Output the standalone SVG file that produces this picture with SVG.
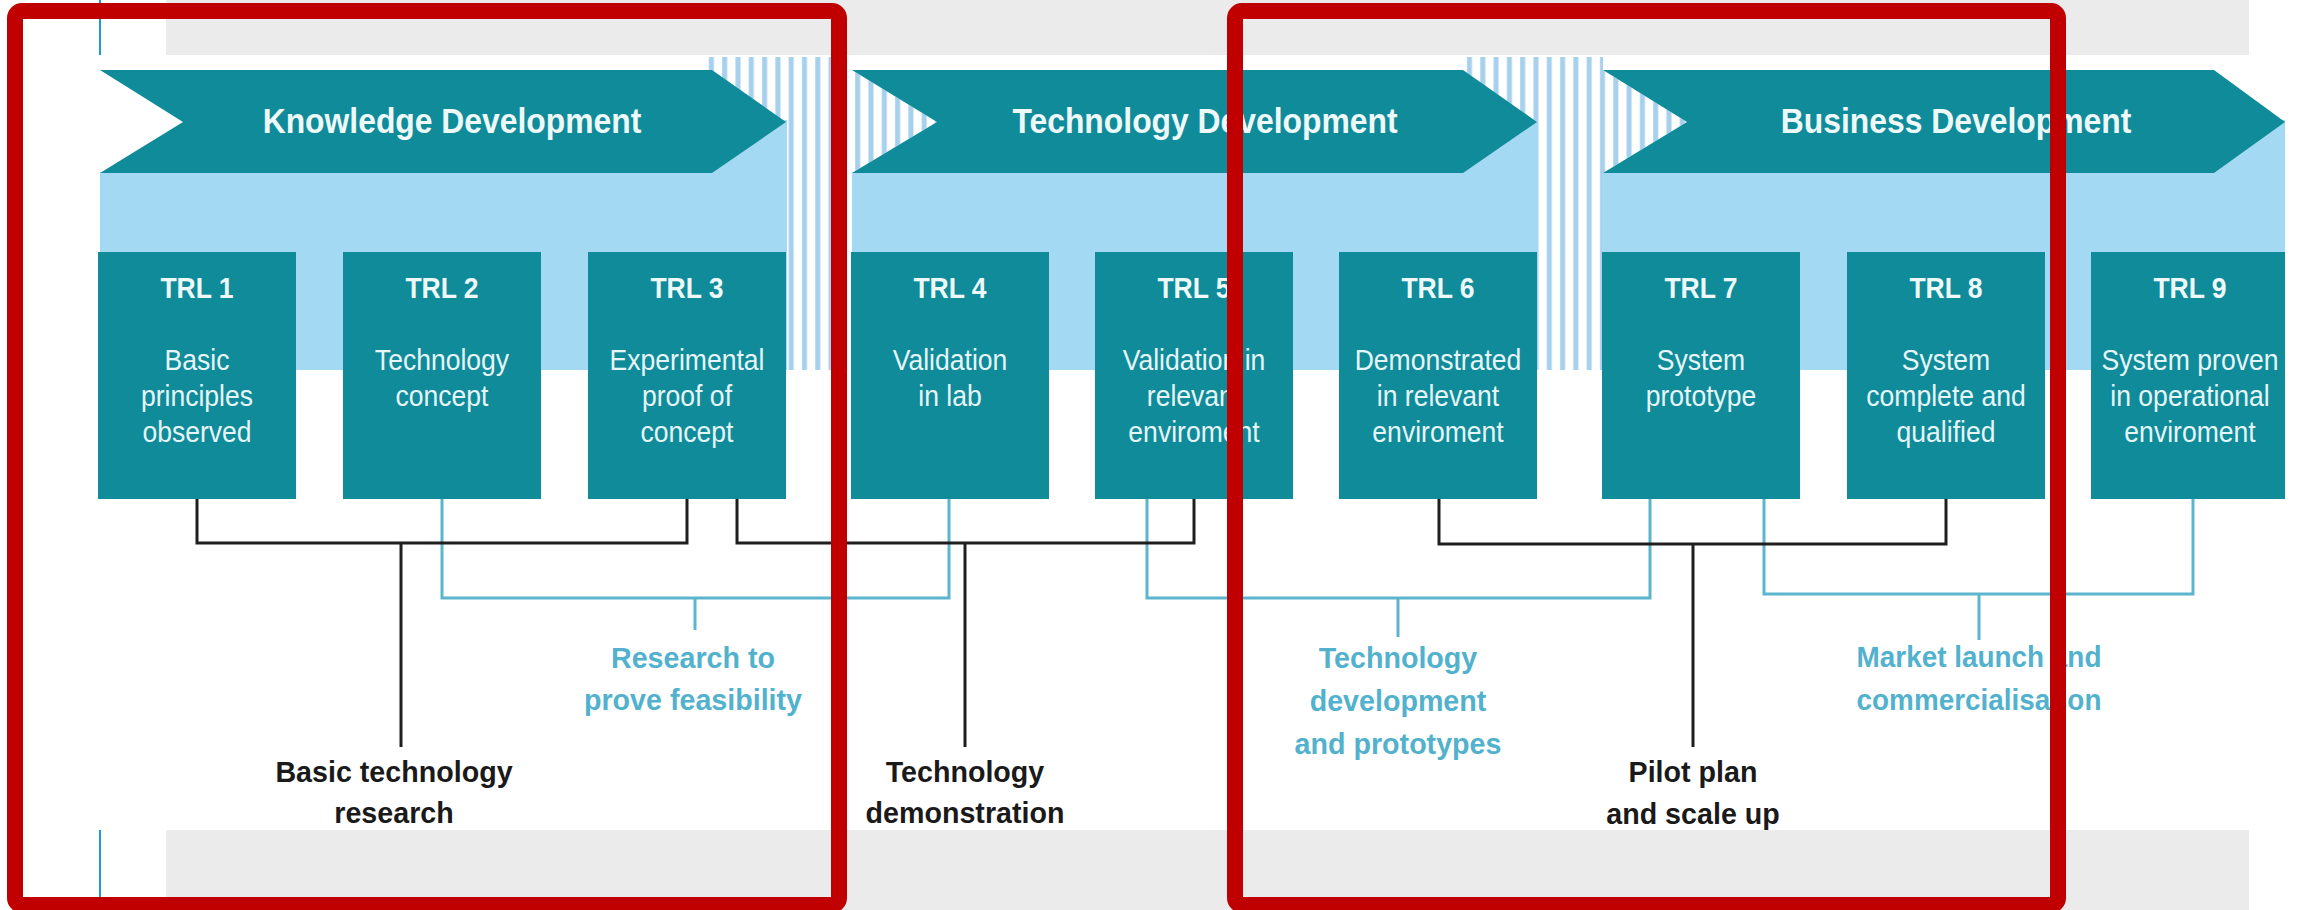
<svg xmlns="http://www.w3.org/2000/svg" width="2305" height="910" viewBox="0 0 2305 910">
<defs>
  <pattern id="stripes" patternUnits="userSpaceOnUse" x="0" y="0" width="13.3" height="20">
    <rect width="13.3" height="20" fill="#ffffff"/>
    <rect x="4" width="5" height="20" fill="#a6d0ec"/>
  </pattern>
  <style>
    .band{fill:#0f8b9a}
    .lb{fill:#a4d9f4}
    .box{fill:#0f8b9a}
    .t{font-family:"Liberation Sans",Arial,sans-serif;text-anchor:middle}
    .title{font-size:36px;font-weight:bold;fill:#eef9fa}
    .trl{font-size:30px;font-weight:bold;fill:#eef9fa}
    .desc{font-size:30px;fill:#e6f5f7}
    .lblk{font-size:30px;font-weight:bold;fill:#1a1a1a}
    .lblu{font-size:30px;font-weight:bold;fill:#52b2cd}
    .ck{fill:none;stroke:#1f1f1f;stroke-width:3}
    .cb{fill:none;stroke:#5ab5cd;stroke-width:3}
    .frame{fill:none;stroke:#c00000;stroke-width:16}
    .gray{fill:#ebebeb}
    .edge{stroke:#1a9be0;stroke-width:2}
  </style>
</defs>
<rect x="0" y="0" width="2305" height="910" fill="#ffffff"/>

<g id="background">
  <rect class="gray" x="166" y="0" width="2083" height="55"/>
  <line class="edge" x1="100" y1="0" x2="100" y2="55"/>
  <rect x="707" y="57" width="145" height="313" fill="url(#stripes)"/>
  <rect x="1463" y="57" width="140" height="313" fill="url(#stripes)"/>
  <rect class="lb" x="100" y="172" width="687" height="198"/>
  <rect class="lb" x="700" y="120" width="87" height="56"/>
  <rect class="lb" x="852" y="172" width="686" height="198"/>
  <rect class="lb" x="1455" y="120" width="83" height="56"/>
  <rect class="lb" x="1602" y="172" width="683" height="198"/>
  <rect class="lb" x="2205" y="120" width="80" height="56"/>
  <polygon points="852,70 937,122 852,173" fill="url(#stripes)"/>
  <polygon points="1603,70 1687,122 1603,173" fill="url(#stripes)"/>
</g>

<g id="phase-knowledge">
  <polygon class="band" points="100,70 712,70 786,122 712,173 100,173 183,122"/>
  <g transform="translate(452 0) scale(0.885 1)"><text class="t title" x="0" y="133">Knowledge Development</text></g>
</g>
<g id="phase-technology">
  <polygon class="band" points="852,70 1463,70 1537,122 1463,173 852,173 937,122"/>
  <g transform="translate(1205 0) scale(0.885 1)"><text class="t title" x="0" y="133">Technology Development</text></g>
</g>
<g id="phase-business">
  <polygon class="band" points="1603,70 2214,70 2285,122 2214,173 1603,173 1687,122"/>
  <g transform="translate(1956 0) scale(0.885 1)"><text class="t title" x="0" y="133">Business Development</text></g>
</g>

<g id="trl1">
  <rect class="box" x="98" y="252" width="198" height="247"/>
  <g transform="translate(197 0) scale(0.885 1)">
    <text class="t trl" x="0" y="298">TRL 1</text>
    <text class="t desc" x="0" y="370">Basic</text>
    <text class="t desc" x="0" y="406">principles</text>
    <text class="t desc" x="0" y="442">observed</text>
  </g>
</g>
<g id="trl2">
  <rect class="box" x="343" y="252" width="198" height="247"/>
  <g transform="translate(442 0) scale(0.885 1)">
    <text class="t trl" x="0" y="298">TRL 2</text>
    <text class="t desc" x="0" y="370">Technology</text>
    <text class="t desc" x="0" y="406">concept</text>
  </g>
</g>
<g id="trl3">
  <rect class="box" x="588" y="252" width="198" height="247"/>
  <g transform="translate(687 0) scale(0.885 1)">
    <text class="t trl" x="0" y="298">TRL 3</text>
    <text class="t desc" x="0" y="370">Experimental</text>
    <text class="t desc" x="0" y="406">proof of</text>
    <text class="t desc" x="0" y="442">concept</text>
  </g>
</g>
<g id="trl4">
  <rect class="box" x="851" y="252" width="198" height="247"/>
  <g transform="translate(950 0) scale(0.885 1)">
    <text class="t trl" x="0" y="298">TRL 4</text>
    <text class="t desc" x="0" y="370">Validation</text>
    <text class="t desc" x="0" y="406">in lab</text>
  </g>
</g>
<g id="trl5">
  <rect class="box" x="1095" y="252" width="198" height="247"/>
  <g transform="translate(1194 0) scale(0.885 1)">
    <text class="t trl" x="0" y="298">TRL 5</text>
    <text class="t desc" x="0" y="370">Validation in</text>
    <text class="t desc" x="0" y="406">relevant</text>
    <text class="t desc" x="0" y="442">enviroment</text>
  </g>
</g>
<g id="trl6">
  <rect class="box" x="1339" y="252" width="198" height="247"/>
  <g transform="translate(1438 0) scale(0.885 1)">
    <text class="t trl" x="0" y="298">TRL 6</text>
    <text class="t desc" x="0" y="370">Demonstrated</text>
    <text class="t desc" x="0" y="406">in relevant</text>
    <text class="t desc" x="0" y="442">enviroment</text>
  </g>
</g>
<g id="trl7">
  <rect class="box" x="1602" y="252" width="198" height="247"/>
  <g transform="translate(1701 0) scale(0.885 1)">
    <text class="t trl" x="0" y="298">TRL 7</text>
    <text class="t desc" x="0" y="370">System</text>
    <text class="t desc" x="0" y="406">prototype</text>
  </g>
</g>
<g id="trl8">
  <rect class="box" x="1847" y="252" width="198" height="247"/>
  <g transform="translate(1946 0) scale(0.885 1)">
    <text class="t trl" x="0" y="298">TRL 8</text>
    <text class="t desc" x="0" y="370">System</text>
    <text class="t desc" x="0" y="406">complete and</text>
    <text class="t desc" x="0" y="442">qualified</text>
  </g>
</g>
<g id="trl9">
  <rect class="box" x="2091" y="252" width="194" height="247"/>
  <g transform="translate(2190 0) scale(0.885 1)">
    <text class="t trl" x="0" y="298">TRL 9</text>
    <text class="t desc" x="0" y="370">System proven</text>
    <text class="t desc" x="0" y="406">in operational</text>
    <text class="t desc" x="0" y="442">enviroment</text>
  </g>
</g>

<g id="connectors">
  <polyline class="cb" points="442,499 442,598 949,598 949,499"/>
  <line class="cb" x1="695" y1="598" x2="695" y2="630"/>
  <polyline class="cb" points="1147,499 1147,598 1650,598 1650,499"/>
  <line class="cb" x1="1398" y1="598" x2="1398" y2="637"/>
  <polyline class="cb" points="1764,499 1764,594 2193,594 2193,499"/>
  <line class="cb" x1="1979" y1="594" x2="1979" y2="640"/>
  <polyline class="ck" points="197,499 197,543 687,543 687,499"/>
  <line class="ck" x1="401" y1="543" x2="401" y2="747"/>
  <polyline class="ck" points="737,499 737,543 1194,543 1194,499"/>
  <line class="ck" x1="965" y1="543" x2="965" y2="747"/>
  <polyline class="ck" points="1439,499 1439,544 1946,544 1946,499"/>
  <line class="ck" x1="1693" y1="544" x2="1693" y2="747"/>
</g>

<g id="label-basic-research" transform="translate(394 0) scale(0.955 1)">
  <text class="t lblk" x="0" y="782">Basic technology</text>
  <text class="t lblk" x="0" y="823">research</text>
</g>
<g id="label-tech-demo" transform="translate(965 0) scale(0.955 1)">
  <text class="t lblk" x="0" y="782">Technology</text>
  <text class="t lblk" x="0" y="823">demonstration</text>
</g>
<g id="label-pilot" transform="translate(1693 0) scale(0.955 1)">
  <text class="t lblk" x="0" y="782">Pilot plan</text>
  <text class="t lblk" x="0" y="824">and scale up</text>
</g>
<g id="label-feasibility" transform="translate(693 0) scale(0.955 1)">
  <text class="t lblu" x="0" y="668">Research to</text>
  <text class="t lblu" x="0" y="710">prove feasibility</text>
</g>
<g id="label-prototypes" transform="translate(1398 0) scale(0.955 1)">
  <text class="t lblu" x="0" y="668">Technology</text>
  <text class="t lblu" x="0" y="711">development</text>
  <text class="t lblu" x="0" y="754">and prototypes</text>
</g>
<g id="label-market" transform="translate(1979 0) scale(0.93 1)">
  <text class="t lblu" x="0" y="667">Market launch and</text>
  <text class="t lblu" x="0" y="710">commercialisation</text>
</g>

<g id="footer">
  <rect class="gray" x="166" y="830" width="2083" height="80"/>
  <line class="edge" x1="100" y1="830" x2="100" y2="910"/>
</g>

<g id="highlight-frames">
  <rect class="frame" x="15" y="11" width="824" height="894" rx="7"/>
  <rect class="frame" x="1235" y="11" width="823" height="894" rx="7"/>
</g>
</svg>
